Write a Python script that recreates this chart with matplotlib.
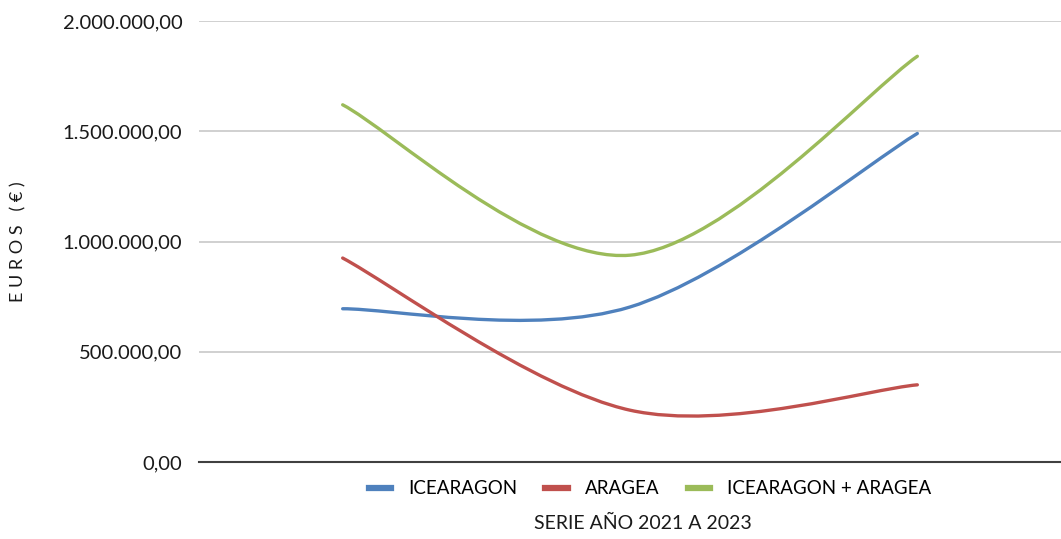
import numpy as np
import matplotlib
matplotlib.use('Agg')
import matplotlib.pyplot as plt
from matplotlib.path import Path
from matplotlib.patches import PathPatch
from matplotlib.lines import Line2D
from matplotlib.ticker import FuncFormatter

plt.rcParams['font.family'] = ['Lato', 'DejaVu Sans']

# Data (euros), one value per year
years = ['2021', '2022', '2023']
icearagon = [695000, 703000, 1490000]
aragea = [925000, 235000, 350000]
total = [1620000, 938000, 1840000]

series = [
    ('ICEARAGON', icearagon, '#4F81BD'),
    ('ARAGEA', aragea, '#C0504D'),
    ('ICEARAGON + ARAGEA', total, '#9BBB59'),
]


def smooth_path(xs, ys):
    """Excel-like smoothed line as cubic Bezier segments (Catmull-Rom)."""
    pts = np.column_stack([xs, ys]).astype(float)
    ext = np.vstack([pts[0], pts, pts[-1]])
    verts = [pts[0]]
    codes = [Path.MOVETO]
    for i in range(len(pts) - 1):
        p0, p1, p2, p3 = ext[i], ext[i + 1], ext[i + 2], ext[i + 3]
        c1 = p1 + (p2 - p0) / 6.0
        c2 = p2 - (p3 - p1) / 6.0
        verts += [c1, c2, p2]
        codes += [Path.CURVE4] * 3
    return Path(verts, codes)


def euro_fmt(v, pos):
    s = f'{v:,.2f}'
    return s.replace(',', 'X').replace('.', ',').replace('X', '.')


fig = plt.figure(figsize=(10.61, 5.39), dpi=100)
ax = fig.add_axes([199 / 1061, 1 - 462 / 539, 862 / 1061, 441 / 539])

x = np.arange(len(years))
for name, vals, color in series:
    patch = PathPatch(smooth_path(x, vals), facecolor='none', edgecolor=color,
                      lw=2.4, capstyle='round', joinstyle='round')
    ax.add_patch(patch)

ax.set_xlim(-0.5, len(years) - 0.5)
ax.set_ylim(0, 2000000)
ax.set_yticks([0, 500000, 1000000, 1500000, 2000000])
ax.yaxis.set_major_formatter(FuncFormatter(euro_fmt))
ax.set_xticks([])
ax.grid(axis='y', color='#c8c8c8', lw=1.2)
ax.set_axisbelow(True)
for side in ['top', 'right', 'left']:
    ax.spines[side].set_visible(False)
ax.spines['bottom'].set_color('#404040')
ax.spines['bottom'].set_linewidth(1.5)
ax.tick_params(axis='y', length=0, pad=12, labelsize=14.5, labelcolor='#1a1a1a')

fig.text(18 / 1061, 1 - 242 / 539, 'E U R O S   ( € )', rotation=90,
         ha='center', va='center', fontsize=13, color='#1a1a1a')

handles = [Line2D([], [], color=c, lw=4.5) for _, _, c in series]
fig.legend(handles, [n for n, _, _ in series], loc='center',
           bbox_to_anchor=(650 / 1061, 1 - 489 / 539), ncol=3, frameon=False,
           fontsize=13.5, handlelength=1.2, columnspacing=1.5, handletextpad=0.9)

fig.text(643 / 1061, 1 - 523 / 539, 'SERIE AÑO 2021 A 2023', ha='center',
         va='center', fontsize=14, color='#1a1a1a')

fig.savefig('out.png', dpi=100)
